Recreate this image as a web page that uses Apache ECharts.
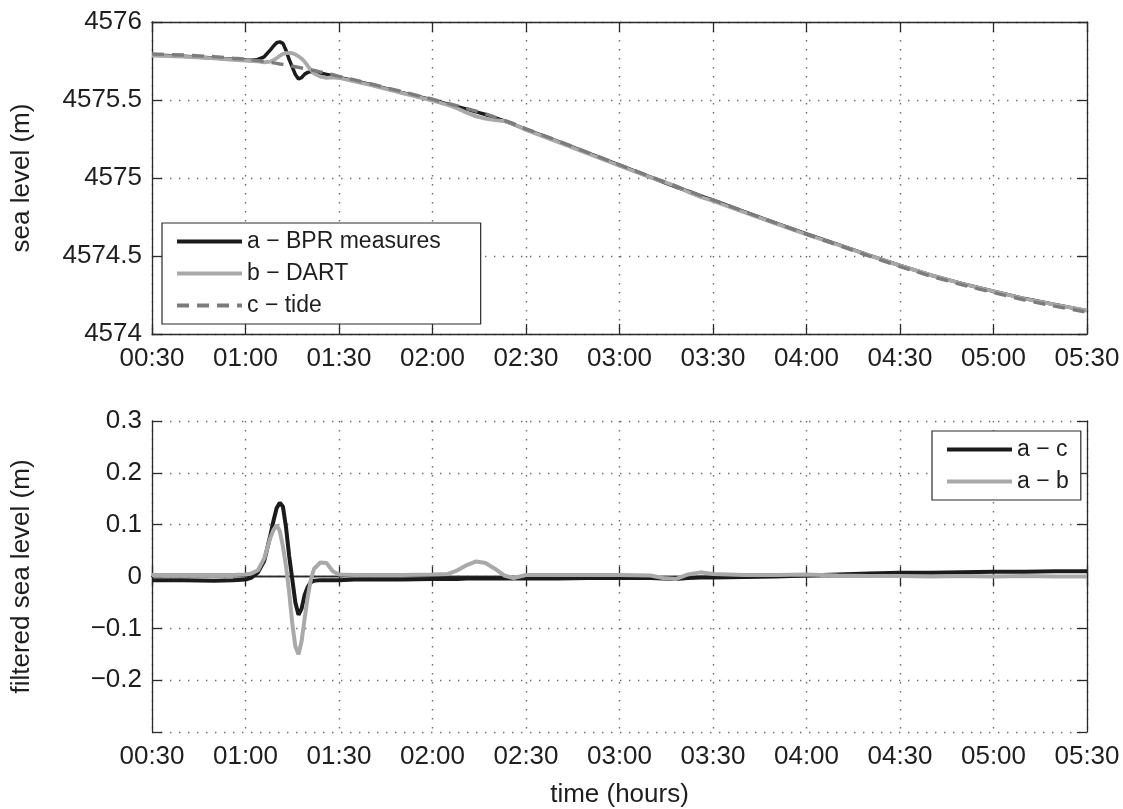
<!DOCTYPE html>
<html><head><meta charset="utf-8">
<script src="https://cdn.jsdelivr.net/npm/echarts@6/dist/echarts.min.js"></script>
<style>html,body{margin:0;padding:0;background:#fff}#c{width:1123px;height:809px}</style>
</head><body><div id="c"></div>
<script>
// time in minutes after 00:00
const minutes = [30,40,50,56,60,62,64,66,68,69,70,71,72,73,74,75,76,77,78,79,80,81,82,84,86,88,90,95,100,110,120,125,128,131,134,137,140,143,146,150,160,170,180,190,194,198,202,206,210,220,230,240,250,260,270,280,290,300,310,320,330];

const tide = [4575.795,4575.788,4575.778,4575.768,4575.762,4575.757,4575.752,4575.747,4575.741,4575.738,
4575.735,4575.731,4575.728,4575.724,4575.720,4575.717,4575.713,4575.709,4575.705,4575.701,
4575.697,4575.693,4575.689,4575.680,4575.671,4575.662,4575.652,4575.629,4575.605,4575.555,
4575.505,4575.478,4575.462,4575.445,4575.428,4575.411,4575.390,4575.370,4575.348,4575.315,
4575.240,4575.162,4575.085,4575.008,4574.978,4574.948,4574.918,4574.888,4574.860,4574.785,
4574.712,4574.640,4574.570,4574.500,4574.432,4574.370,4574.315,4574.265,4574.218,4574.177,
4574.140];

const bprMeasures = [4575.788,4575.781,4575.770,4575.761,4575.756,4575.755,4575.760,4575.777,4575.821,4575.846,
4575.867,4575.873,4575.863,4575.819,4575.760,4575.712,4575.663,4575.635,4575.643,4575.666,
4575.677,4575.682,4575.681,4575.673,4575.664,4575.655,4575.645,4575.623,4575.599,4575.549,
4575.500,4575.473,4575.457,4575.441,4575.424,4575.407,4575.386,4575.366,4575.344,4575.311,
4575.236,4575.159,4575.082,4575.005,4574.974,4574.943,4574.915,4574.886,4574.858,4574.784,
4574.712,4574.642,4574.574,4574.506,4574.439,4574.377,4574.323,4574.274,4574.227,4574.187,
4574.150];

const dart = [4575.785,4575.778,4575.767,4575.758,4575.752,4575.749,4575.748,4575.742,4575.746,4575.756,
4575.768,4575.783,4575.795,4575.800,4575.802,4575.800,4575.792,4575.780,4575.765,4575.745,
4575.718,4575.692,4575.670,4575.650,4575.642,4575.645,4575.641,4575.620,4575.596,4575.546,
4575.496,4575.468,4575.445,4575.419,4575.395,4575.381,4575.371,4575.364,4575.347,4575.308,
4575.233,4575.156,4575.079,4575.003,4574.977,4574.948,4574.911,4574.878,4574.853,4574.781,
4574.709,4574.638,4574.572,4574.505,4574.438,4574.377,4574.322,4574.274,4574.226,4574.187,
4574.150];

const aMinusC = [-0.007,-0.007,-0.008,-0.007,-0.006,-0.002,0.008,0.030,0.080,0.108,
0.132,0.142,0.135,0.095,0.040,-0.005,-0.050,-0.074,-0.062,-0.035,
-0.020,-0.011,-0.008,-0.007,-0.007,-0.007,-0.007,-0.006,-0.006,-0.006,
-0.005,-0.005,-0.005,-0.004,-0.004,-0.004,-0.004,-0.004,-0.004,-0.004,
-0.004,-0.003,-0.003,-0.003,-0.004,-0.005,-0.003,-0.002,-0.002,-0.001,
0.000,0.002,0.004,0.006,0.007,0.007,0.008,0.009,0.009,0.010,
0.010];

const aMinusB = [0.003,0.003,0.003,0.003,0.004,0.006,0.012,0.035,0.075,0.090,
0.099,0.088,0.058,0.020,-0.030,-0.090,-0.135,-0.150,-0.125,-0.080,
-0.038,-0.005,0.015,0.027,0.026,0.010,0.004,0.003,0.003,0.003,
0.004,0.005,0.012,0.022,0.029,0.026,0.015,0.002,-0.003,0.003,
0.003,0.003,0.003,0.002,-0.003,-0.005,0.004,0.008,0.005,0.003,
0.003,0.004,0.002,0.001,0.001,0.000,0.001,0.000,0.001,0.000,
0.000];

const timeTickLabels = ['00:30','01:00','01:30','02:00','02:30','03:00','03:30','04:00','04:30','05:00','05:30'];
const seaLevelTickLabels = ['4574','4574.5','4575','4575.5','4576'];
const filteredTickLabels = ['', '\u22120.2', '\u22120.1', '0', '0.1', '0.2', '0.3'];

const FONT = 'Liberation Sans, Arial, Helvetica, sans-serif';
const TXT = '#1e1e1e';
const FS = 26;

const chart = echarts.init(document.getElementById('c'), null, {renderer: 'canvas'});

const boxLine = {show: true, lineStyle: {color: '#2a2a2a', width: 1.3}};
const inTick = {show: true, inside: true, length: 10, lineStyle: {color: '#2a2a2a', width: 1.3}};
const dotted = {show: true, lineStyle: {color: '#6a6a6a', width: 1.4, type: [1.4, 7.6]}};

function xMain(gi, withName) {
  return {
    type: 'value', gridIndex: gi, position: 'bottom', min: 30, max: 330, interval: 30,
    axisLine: boxLine, axisTick: inTick, splitLine: dotted,
    axisLabel: {show: true, margin: 12, color: TXT, fontSize: FS, fontFamily: FONT,
      formatter: v => timeTickLabels[Math.round((v - 30) / 30)]},
    name: withName ? 'time (hours)' : '', nameLocation: 'middle', nameGap: 50,
    nameTextStyle: {color: TXT, fontSize: FS, fontFamily: FONT}
  };
}
function xTop(gi) {
  return {type: 'value', gridIndex: gi, position: 'top', min: 30, max: 330, interval: 30,
    axisLine: boxLine, axisTick: inTick, splitLine: {show: false}, axisLabel: {show: false}};
}
function legendBase(names, left, top, padding) {
  return {data: names, left: left, top: top, orient: 'vertical', itemWidth: 65, itemHeight: 16, itemGap: 9,
    padding: padding, borderColor: '#2a2a2a', borderWidth: 1.2, backgroundColor: '#fff',
    itemStyle: {opacity: 0, borderWidth: 0}, lineStyle: {width: 4},
    textStyle: {color: TXT, fontSize: 23, fontFamily: FONT}, selectedMode: false};
}

const option = {
  backgroundColor: '#fff',
  animation: false,
  grid: [
    {left: 152, right: 36, top: 22, height: 312},
    {left: 152, right: 36, top: 421, height: 312}
  ],
  xAxis: [xMain(0, false), xTop(0), xMain(1, true), xTop(1)],
  yAxis: [
    {type: 'value', gridIndex: 0, position: 'left', min: 4574, max: 4576, interval: 0.5,
      axisLine: boxLine, axisTick: inTick, splitLine: dotted,
      axisLabel: {show: true, margin: 10, color: TXT, fontSize: FS, fontFamily: FONT,
        formatter: v => seaLevelTickLabels[Math.round((v - 4574) / 0.5)]},
      name: 'sea level (m)', nameLocation: 'middle', nameGap: 117,
      nameTextStyle: {color: TXT, fontSize: FS, fontFamily: FONT}},
    {type: 'value', gridIndex: 0, position: 'right', min: 4574, max: 4576, interval: 0.5,
      axisLine: boxLine, axisTick: inTick, splitLine: {show: false}, axisLabel: {show: false}},
    {type: 'value', gridIndex: 1, position: 'left', min: -0.3, max: 0.3, interval: 0.1,
      axisLine: boxLine, axisTick: inTick, splitLine: dotted,
      axisLabel: {show: true, margin: 10, color: TXT, fontSize: FS, fontFamily: FONT,
        formatter: v => filteredTickLabels[Math.round((v + 0.3) / 0.1)]},
      name: 'filtered sea level (m)', nameLocation: 'middle', nameGap: 117,
      nameTextStyle: {color: TXT, fontSize: FS, fontFamily: FONT}},
    {type: 'value', gridIndex: 1, position: 'right', min: -0.3, max: 0.3, interval: 0.1,
      axisLine: boxLine, axisTick: inTick, splitLine: {show: false}, axisLabel: {show: false}}
  ],
  legend: [
    legendBase(['a \u2212 BPR measures', 'b \u2212 DART', 'c \u2212 tide'], 162, 223, [7, 40, 7, 13]),
    legendBase(['a \u2212 c', 'a \u2212 b'], 932, 431, [7, 12, 7, 13])
  ],
  series: [
    {name: 'a \u2212 BPR measures', type: 'line', xAxisIndex: 0, yAxisIndex: 0, symbol: 'none',
      data: minutes.map((m, i) => [m, bprMeasures[i]]),
      lineStyle: {color: '#1b1b1b', width: 3.5}, itemStyle: {color: '#1b1b1b'}, z: 2},
    {name: 'b \u2212 DART', type: 'line', xAxisIndex: 0, yAxisIndex: 0, symbol: 'none',
      data: minutes.map((m, i) => [m, dart[i]]),
      lineStyle: {color: '#a9a9a9', width: 3.8}, itemStyle: {color: '#a9a9a9'}, z: 3},
    {name: 'c \u2212 tide', type: 'line', xAxisIndex: 0, yAxisIndex: 0, symbol: 'none',
      data: minutes.map((m, i) => [m, tide[i]]),
      lineStyle: {color: '#7c7c7c', width: 3.4, type: [12, 8]}, itemStyle: {color: '#7c7c7c'}, z: 4},
    {name: 'a \u2212 c', type: 'line', xAxisIndex: 2, yAxisIndex: 2, symbol: 'none',
      data: minutes.map((m, i) => [m, aMinusC[i]]),
      lineStyle: {color: '#1b1b1b', width: 4}, itemStyle: {color: '#1b1b1b'}, z: 2},
    {name: 'a \u2212 b', type: 'line', xAxisIndex: 2, yAxisIndex: 2, symbol: 'none',
      data: minutes.map((m, i) => [m, aMinusB[i]]),
      lineStyle: {color: '#a9a9a9', width: 4}, itemStyle: {color: '#a9a9a9'}, z: 3}
  ]
};
chart.setOption(option);
</script></body></html>
